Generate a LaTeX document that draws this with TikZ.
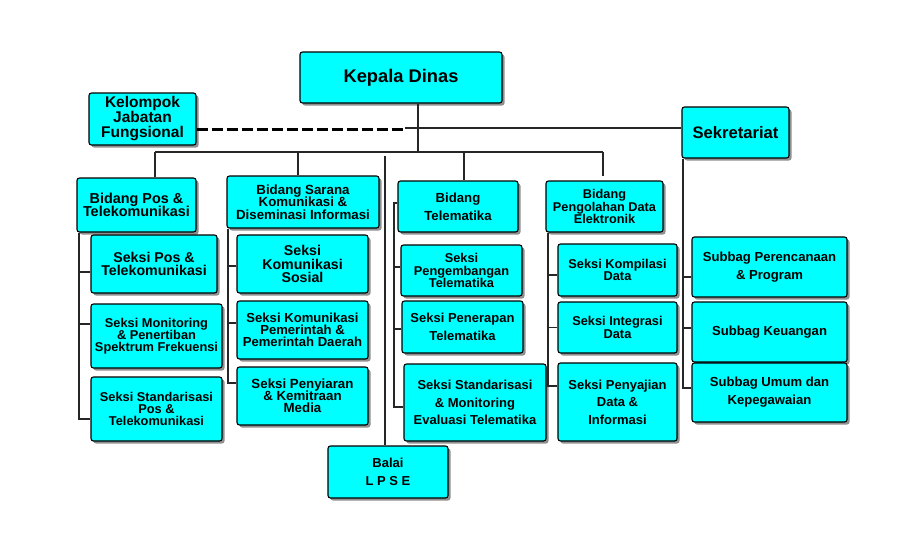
\documentclass[tikz,border=0pt]{standalone}
\usepackage{fontspec}
\setmainfont{Liberation Sans}
\usetikzlibrary{shadows}
\definecolor{unitcyan}{RGB}{0,255,255}
\newcommand\boxfont[2]{\bfseries\fontsize{#1}{#2}\selectfont\lineskiplimit=-5pt\relax}
\tikzset{
  unit/.style={draw=black, line width=1.1pt, fill=unitcyan, rounded corners=2.5pt,
    align=center, inner sep=1pt, font=\boxfont{12.8}{12.4},
    drop shadow={shadow xshift=2.5pt, shadow yshift=-2.5pt, opacity=.55, fill=black!80}},
  link/.style={line width=1.6pt, draw=black!85},
}
\begin{document}
\begin{tikzpicture}[x=1pt, y=-1pt]
    \useasboundingbox (0,0) rectangle (909,544);

    % top boxes:
    \node[unit, minimum width=202pt, minimum height=51pt, font=\boxfont{18.3}{20}] (kepala) at (401,77.5) {Kepala Dinas};
    \node[unit, minimum width=107pt, minimum height=52pt, font=\boxfont{15.5}{15}] (fungsional) at (142.5,119) {Kelompok\\Jabatan\\Fungsional};
    \node[unit, minimum width=107pt, minimum height=51pt, font=\boxfont{16.6}{18}] (sekretariat) at (735.5,132.5) {Sekretariat};

    % bidang boxes:
    \node[unit, minimum width=119pt, minimum height=54pt, font=\boxfont{14.4}{12.8}] (bpos) at (136.5,205) {Bidang Pos \&\\Telekomunikasi};
    \node[unit, minimum width=152pt, minimum height=52pt, font=\boxfont{13.3}{12.4}] (bsarana) at (303,202) {Bidang Sarana\\Komunikasi \&\\Diseminasi Informasi};
    \node[unit, minimum width=120pt, minimum height=51pt, font=\boxfont{13.2}{17.7}] (btele) at (458,206.5) {Bidang\\Telematika};
    \node[unit, minimum width=117pt, minimum height=51pt, font=\boxfont{12.7}{12.2}] (bpde) at (604.5,206.5) {Bidang\\Pengolahan Data\\Elektronik};

    % seksi boxes:
    \node[unit, minimum width=126pt, minimum height=58pt, font=\boxfont{14.2}{12.6}] (spos) at (154,264) {Seksi Pos \&\\Telekomunikasi};
    \node[unit, minimum width=131pt, minimum height=64pt, font=\boxfont{12.8}{12}] (smon) at (156.5,336) {Seksi Monitoring\\\& Penertiban\\Spektrum Frekuensi};
    \node[unit, minimum width=131pt, minimum height=64pt] (sstdpos) at (156.5,409) {Seksi Standarisasi\\Pos \&\\Telekomunikasi};

    \node[unit, minimum width=131pt, minimum height=58pt, font=\boxfont{14.2}{13.4}] (skomsos) at (302.5,264) {Seksi\\Komunikasi\\Sosial};
    \node[unit, minimum width=131pt, minimum height=58pt, font=\boxfont{13.1}{12}] (skompem) at (302.5,330) {Seksi Komunikasi\\Pemerintah \&\\Pemerintah Daerah};
    \node[unit, minimum width=131pt, minimum height=58pt, font=\boxfont{13.3}{12}] (speny) at (302.5,396) {Seksi Penyiaran\\\& Kemitraan\\Media};

    \node[unit, minimum width=121pt, minimum height=51pt, font=\boxfont{12.8}{12.4}] (speng) at (461.5,270.5) {Seksi\\Pengembangan\\Telematika};
    \node[unit, minimum width=121pt, minimum height=52pt, font=\boxfont{13}{17.7}] (spener) at (462.5,327) {Seksi Penerapan\\Telematika};
    \node[unit, minimum width=142pt, minimum height=77pt, font=\boxfont{13}{17.8}] (sstdtele) at (475,402.5) {Seksi Standarisasi\\\& Monitoring\\Evaluasi Telematika};

    \node[unit, minimum width=119pt, minimum height=52pt] (skomp) at (617.5,270) {Seksi Kompilasi\\Data};
    \node[unit, minimum width=119pt, minimum height=51pt] (sint) at (617.5,327.5) {Seksi Integrasi\\Data};
    \node[unit, minimum width=119pt, minimum height=78pt, font=\boxfont{13}{17.5}] (ssaji) at (617.5,402) {Seksi Penyajian\\Data \&\\Informasi};

    % subbag boxes:
    \node[unit, minimum width=155pt, minimum height=60pt, font=\boxfont{13.1}{18}] (sbrencana) at (769.5,267) {Subbag Perencanaan\\\& Program};
    \node[unit, minimum width=155pt, minimum height=60pt, font=\boxfont{13.1}{18}] (sbkeu) at (769.5,332) {Subbag Keuangan};
    \node[unit, minimum width=155pt, minimum height=59pt, font=\boxfont{13.1}{18}] (sbumum) at (769.5,392.5) {Subbag Umum dan\\Kepegawaian};

    \node[unit, minimum width=120pt, minimum height=52pt, font=\boxfont{13}{18}] (balai) at (388,472) {Balai\\L P S E};

    % joints:
    \coordinate (trunk) at (418,152);
    \coordinate (dpos) at (155,152);
    \coordinate (dsarana) at (298,152);
    \coordinate (dtele) at (464,152);
    \coordinate (dpde) at (603,152);
    \coordinate (sekjoin) at (405,128);
    \coordinate (jfjoin) at (404,129);
    \coordinate (lpse) at (385,156);
    \coordinate (c1) at (79,0);
    \coordinate (c2) at (228,0);
    \coordinate (c3) at (394,0);
    \coordinate (c4) at (548,0);
    \coordinate (c5) at (683,0);
    \coordinate (teletop) at ([yshift=3.5pt]btele.west);

    % lines:
    \draw[link] (kepala.south -| trunk) -- (trunk);
    \draw[link] (sekjoin) -- (sekjoin -| sekretariat.west);
    \draw[link, line width=3pt, draw=black, dash pattern=on 11pt off 4pt] (jfjoin -| fungsional.east) -- (jfjoin);
    \draw[link] (dpos) -- (dpde);
    \foreach \d/\b in {dpos/bpos, dsarana/bsarana, dtele/btele}
        \draw[link] (\d) -- (\d |- \b.north);
    \draw[link, shorten >=4pt] (dpde) -- (dpde |- bpde.north);
    \draw[link] (lpse) -- (lpse |- balai.north);

    % branch lines:
    \foreach \n/\s in {spos/-8pt, smon/12pt, sstdpos/-10pt}
        \draw[link] (bpos.south -| c1) |- ([yshift=\s]\n.west);
    \foreach \n/\s in {skomsos/-2pt, skompem/7pt, speny/13pt}
        \draw[link] (bsarana.south -| c2) |- ([yshift=\s]\n.west);
    \foreach \n/\s in {speng/3.5pt, spener/-2pt, sstdtele/-4.5pt}
        \draw[link] (teletop) -- (teletop -| c3) |- ([yshift=\s]\n.west);
    \foreach \n/\s in {skomp/-5pt, sint/0pt, ssaji/16pt}
        \draw[link] (bpde.south -| c4) |- ([yshift=\s]\n.west);
    \foreach \n/\s in {sbrencana/-10pt, sbkeu/4pt, sbumum/4.5pt}
        \draw[link] (sekretariat.south -| c5) |- ([yshift=\s]\n.west);
\end{tikzpicture}
\end{document}
